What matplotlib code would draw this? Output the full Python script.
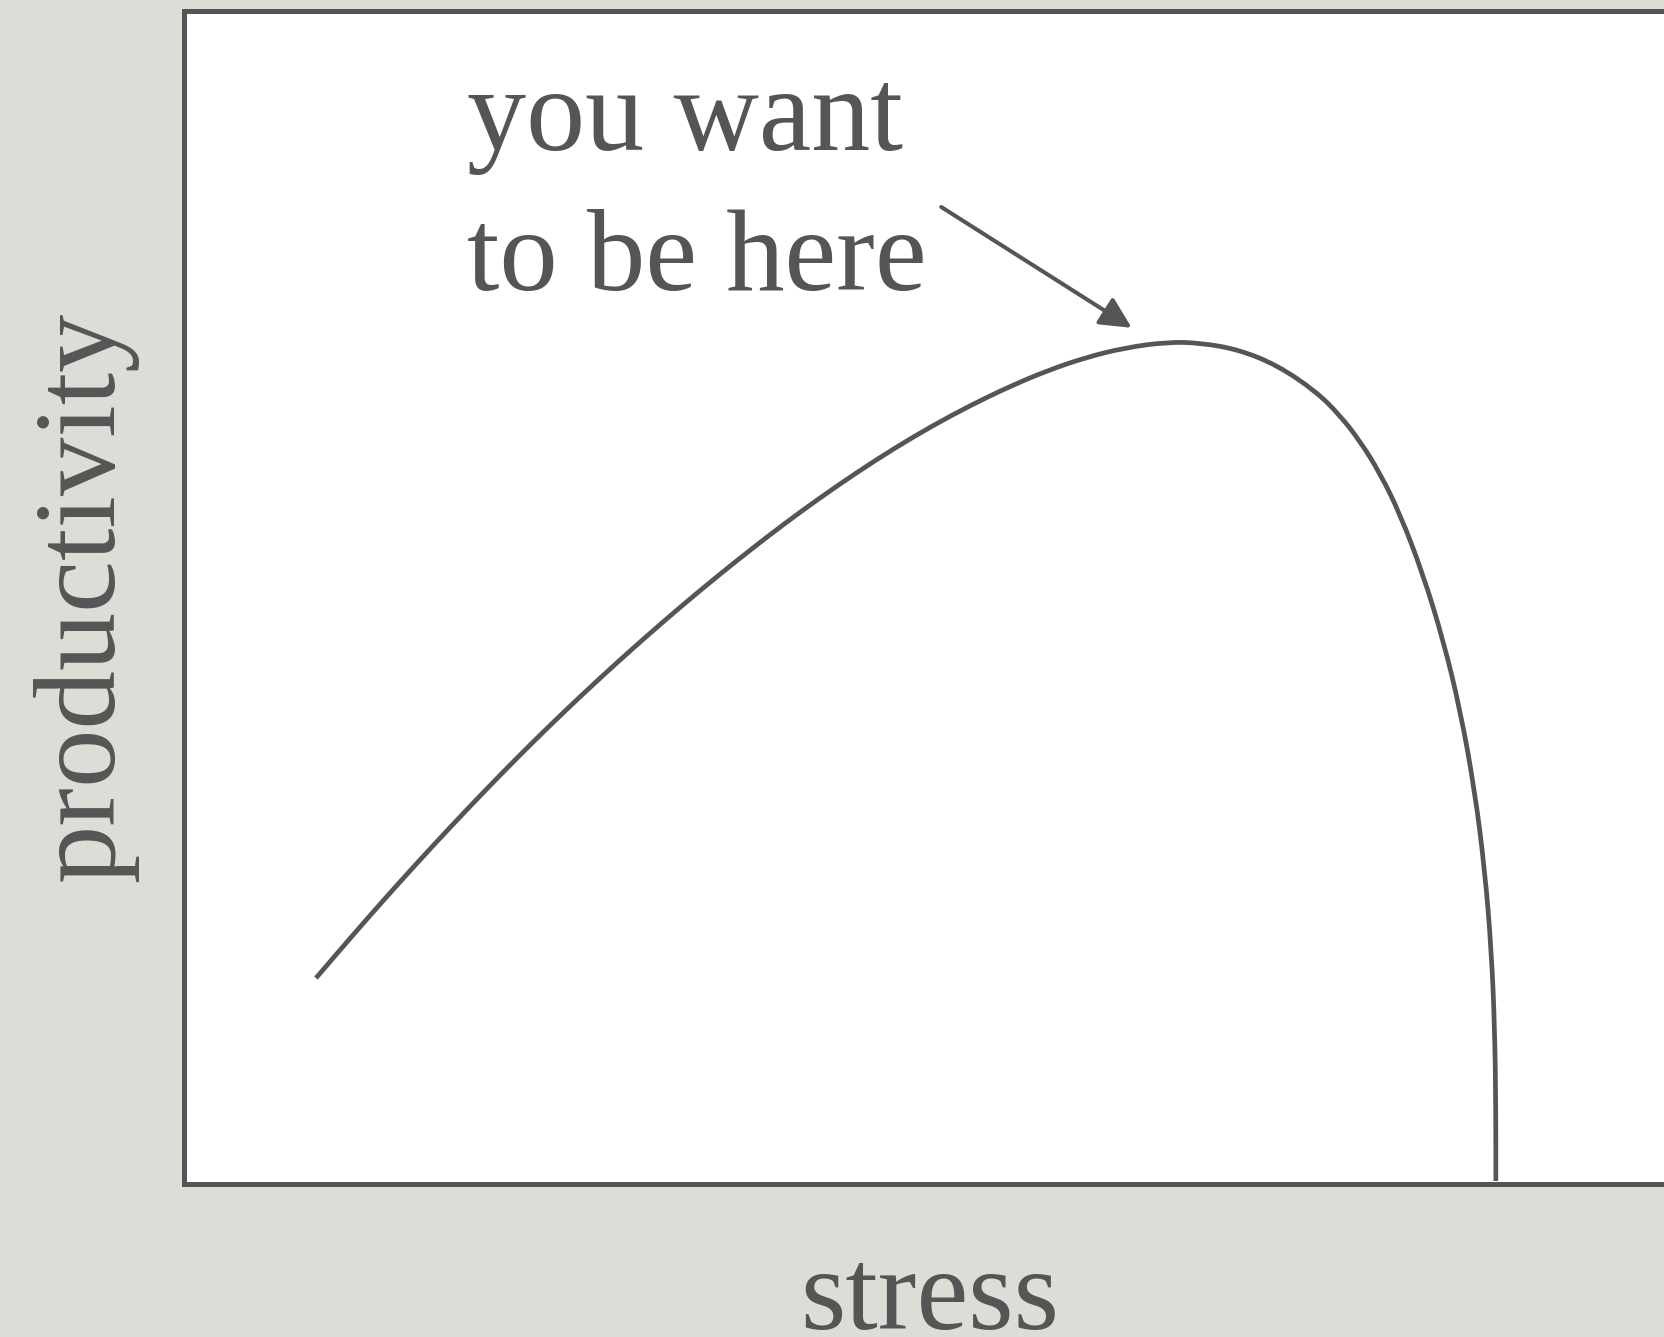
import matplotlib.pyplot as plt
from matplotlib.path import Path
from matplotlib.patches import PathPatch

# curve (stress on x, productivity on y, 0-100 scale)
stress = [8.59, 10.81, 12.96, 15.17, 17.32, 19.47, 21.68, 23.83, 25.98, 28.19,
          30.34, 32.49, 34.70, 36.85, 39.00, 41.28, 43.82, 46.29, 48.76, 51.24,
          53.78, 56.25, 58.72, 61.20, 64.00, 66.21, 68.68, 71.16, 73.70, 75.26,
          76.56, 77.86, 79.17, 80.66, 81.97, 83.09, 84.03, 84.69, 85.12, 85.34,
          85.41, 85.41]
productivity = [17.56, 20.95, 24.16, 27.37, 30.41, 33.37, 36.33, 39.11, 41.79, 44.46,
                46.96, 49.39, 51.79, 54.04, 56.21, 58.39, 60.68, 62.76, 64.67, 66.41,
                68.01, 69.37, 70.47, 71.28, 71.79, 71.71, 71.13, 69.82, 67.58, 65.53,
                63.35, 60.62, 57.13, 52.02, 46.44, 40.41, 33.59, 26.77, 19.95, 13.13,
                6.31, 0.26]

label_lines = ["you want", "to be here"]
arrow_tail = (49.3, 83.3)
arrow_head = (61.7, 73.0)

ink = "#555555"
bg = "#dddcd6"
serif = ["Liberation Serif", "DejaVu Serif"]

fig = plt.figure(figsize=(16.64, 13.37), dpi=100, facecolor=bg)
ax = fig.add_axes([0.1106, 0.1144, 0.923, 0.8773])
ax.set_facecolor("white")
ax.set_xlim(0, 100)
ax.set_ylim(0, 100)
ax.set_xticks([])
ax.set_yticks([])
for s in ax.spines.values():
    s.set_color(ink)
    s.set_linewidth(3.6)

# smooth the read points: quadratic pieces between midpoints
pts = list(zip(stress, productivity))
mids = [((a[0] + b[0]) / 2, (a[1] + b[1]) / 2) for a, b in zip(pts[:-1], pts[1:])]
verts = [pts[0], mids[0]]
codes = [Path.MOVETO, Path.LINETO]
for p, m in zip(pts[1:-1], mids[1:]):
    verts += [p, m]
    codes += [Path.CURVE3, Path.CURVE3]
verts.append(pts[-1])
codes.append(Path.LINETO)
ax.add_patch(PathPatch(Path(verts, codes), fill=False, edgecolor=ink, lw=3.4,
                       capstyle="butt", joinstyle="round"))

ax.annotate("", xy=arrow_head, xytext=arrow_tail,
            arrowprops=dict(arrowstyle="-|>,head_length=1.9,head_width=0.95",
                            color=ink, lw=2.9, shrinkA=0, shrinkB=0))

ax.text(18.4, 88.2, label_lines[0], fontsize=85, color=ink, family=serif, va="baseline")
ax.text(18.4, 76.2, label_lines[1], fontsize=84, color=ink, family=serif, va="baseline")

fig.text(0.051, 0.5535, "productivity", rotation=90, fontsize=84, color=ink,
         family=serif, ha="center", va="center")
fig.text(0.559, 0.006, "stress", fontsize=84, color=ink, family=serif,
         ha="center", va="baseline")

plt.savefig("out.png", dpi=100, facecolor=bg)
